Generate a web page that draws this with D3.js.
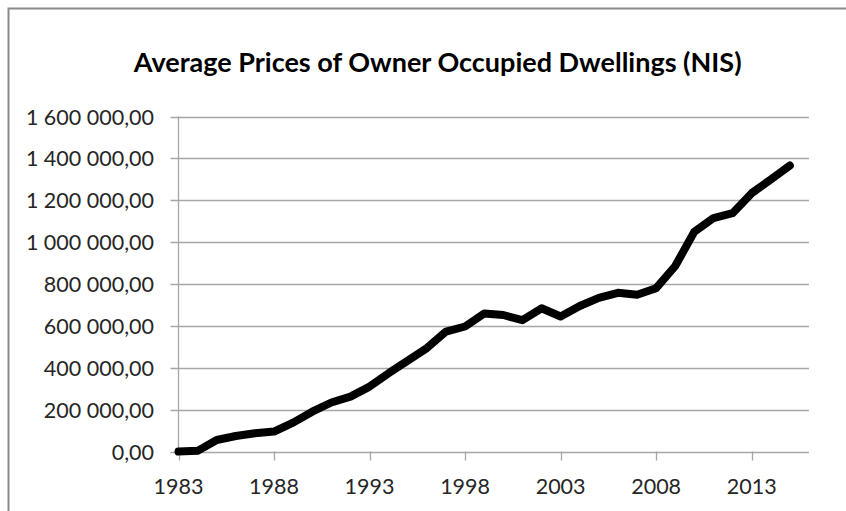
<!DOCTYPE html>
<html>
<head>
<meta charset="utf-8">
<script src="https://cdn.jsdelivr.net/npm/d3@7"></script>
<style>
  html, body { margin: 0; padding: 0; background: #fff; overflow: hidden; }
  svg { display: block; }
</style>
</head>
<body>
<svg id="chart" width="846" height="511"></svg>
<script>
const title = "Average Prices of Owner Occupied Dwellings (NIS)";
const years = d3.range(1983, 2016);
const prices = [
  0, 3000, 55000, 74000, 87000, 95000, 138000, 190000, 234000, 262000,
  310000, 374000, 434000, 494000, 573000, 597000, 659000, 652000, 627000, 684000,
  645000, 695000, 734000, 758000, 749000, 780000, 886000, 1050000, 1115000, 1138000,
  1234000, 1299000, 1366000
];
const yTicks = [0, 200000, 400000, 600000, 800000, 1000000, 1200000, 1400000, 1600000];
const xTickYears = [1983, 1988, 1993, 1998, 2003, 2008, 2013];

(function () {
const svg = d3.select("#chart");
const pLeft = 178.5, pRight = 809, pTop = 116.5, pBottom = 451.5;

// outer chart frame: only the top and left edges are inside the picture
svg.append("path")
  .attr("d", "M8.5,511 L8.5,8.5 L846,8.5")
  .attr("fill", "none").attr("stroke", "#8a8a8a").attr("stroke-width", 2);

const x = d3.scaleLinear().domain([1983, 2016]).range([pLeft, pRight]);
const y = d3.scaleLinear().domain([0, 1600000]).range([pBottom, pTop]);

const loc = d3.formatLocale({decimal: ",", thousands: "\u00a0", grouping: [3], currency: ["", ""]});
const fmt = loc.format(",.2f");

// gridlines
svg.append("g").selectAll("line").data(yTicks).join("line")
  .attr("x1", pLeft - 8).attr("x2", pRight)
  .attr("y1", d => Math.round(y(d)) + 0.5).attr("y2", d => Math.round(y(d)) + 0.5)
  .attr("stroke", "#a6a6a6").attr("stroke-width", 1.3);

// y axis line
svg.append("line")
  .attr("x1", pLeft).attr("x2", pLeft).attr("y1", pTop).attr("y2", pBottom)
  .attr("stroke", "#a6a6a6").attr("stroke-width", 1.3);

// x ticks
svg.append("g").selectAll("line").data(xTickYears).join("line")
  .attr("x1", d => Math.round(x(d)) + 0.5).attr("x2", d => Math.round(x(d)) + 0.5)
  .attr("y1", pBottom).attr("y2", pBottom + 9)
  .attr("stroke", "#a6a6a6").attr("stroke-width", 1.3);

// y labels
svg.append("g").selectAll("text").data(yTicks).join("text")
  .attr("x", 154).attr("y", d => y(d) + 8)
  .attr("text-anchor", "end")
  .attr("font-family", "Lato, 'Open Sans', sans-serif")
  .attr("font-size", 21.5)
  .attr("fill", "#262626")
  .text(d => fmt(d));

// x labels
svg.append("g").selectAll("text").data(xTickYears).join("text")
  .attr("x", d => x(d)).attr("y", 494)
  .attr("text-anchor", "middle")
  .attr("font-family", "Lato, 'Open Sans', sans-serif")
  .attr("font-size", 21.5)
  .attr("fill", "#262626")
  .text(d => d);

// line
const line = d3.line().x((d, i) => x(years[i])).y(d => y(d));
svg.append("path")
  .datum(prices)
  .attr("d", line)
  .attr("fill", "none")
  .attr("stroke", "#000")
  .attr("stroke-width", 8)
  .attr("stroke-linejoin", "round")
  .attr("stroke-linecap", "round");

// title
svg.append("text")
  .attr("x", 437.7).attr("y", 72)
  .attr("text-anchor", "middle")
  .attr("font-family", "Lato, 'Open Sans', sans-serif")
  .attr("font-weight", "bold")
  .attr("font-size", 27)
  .attr("fill", "#000")
  .text(title);
})();
</script>
</body>
</html>
